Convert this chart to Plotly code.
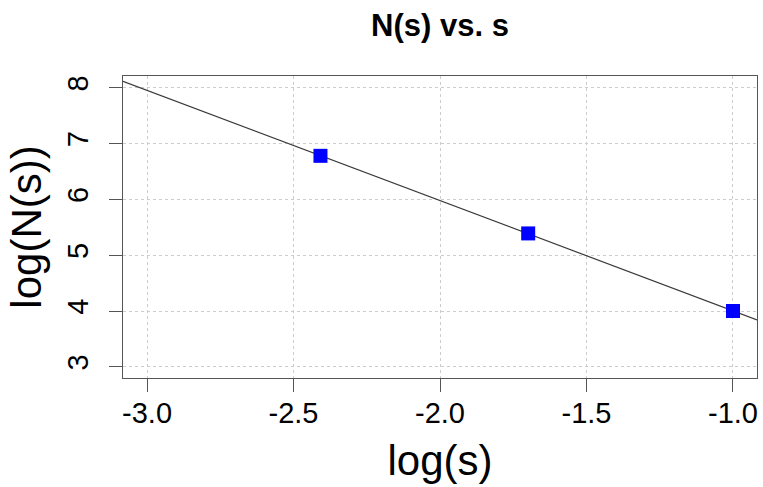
import numpy as np
import plotly.graph_objects as go

log_s = [-2.408, -1.699, -1.0]
log_N = [6.78, 5.39, 4.0]
x_ticks = [-3.0, -2.5, -2.0, -1.5, -1.0]
x_tick_text = ["-3.0", "-2.5", "-2.0", "-1.5", "-1.0"]
y_ticks = [3, 4, 5, 6, 7, 8]

x_range = [-3.082, -0.918]
y_range = [2.80, 8.21]

slope, intercept = np.polyfit(log_s, log_N, 1)
fit_x = np.array(x_range)
fit_y = slope * fit_x + intercept

FONT = "Liberation Sans, Arial, Helvetica, sans-serif"
AX = "#555555"

fig = go.Figure()
fig.add_trace(go.Scatter(x=fit_x, y=fit_y, mode="lines",
                         line=dict(color="#3a3a3a", width=1.2),
                         showlegend=False, hoverinfo="skip"))
fig.add_trace(go.Scatter(x=log_s, y=log_N, mode="markers",
                         marker=dict(symbol="square", size=14, color="#0000FF",
                                     line=dict(width=0)),
                         showlegend=False))

fig.update_layout(
    width=763, height=487,
    margin=dict(l=123, r=6, t=76, b=109),
    paper_bgcolor="white", plot_bgcolor="white",
    font=dict(family=FONT, color="black"),
    title=dict(text="<b>N(s) vs. s</b>", x=0.5, xanchor="center", xref="paper",
               y=1 - 25 / 487, yanchor="middle", font=dict(size=31)),
)
fig.update_xaxes(
    range=x_range, tickvals=x_ticks, ticktext=x_tick_text,
    ticks="outside", ticklen=13, tickcolor=AX, tickwidth=1,
    showline=True, mirror=True, linecolor=AX, linewidth=1,
    showgrid=True, gridcolor="#cccccc", griddash="dot", gridwidth=1,
    zeroline=False, tickfont=dict(size=29), ticklabelstandoff=-4,
    title=dict(text="log(s)", font=dict(size=42), standoff=17),
)
fig.update_yaxes(
    range=y_range, tickvals=y_ticks,
    ticks="outside", ticklen=13, tickcolor=AX, tickwidth=1, tickangle=-90,
    showline=True, mirror=True, linecolor=AX, linewidth=1,
    showgrid=True, gridcolor="#cccccc", griddash="dot", gridwidth=1,
    zeroline=False, tickfont=dict(size=29), ticklabelstandoff=9,
    title=dict(text="log(N(s))", font=dict(size=42), standoff=7),
)

fig.write_html("out.html", config={"displayModeBar": False},
               post_script="document.body.style.margin='0';document.body.style.padding='0';")
